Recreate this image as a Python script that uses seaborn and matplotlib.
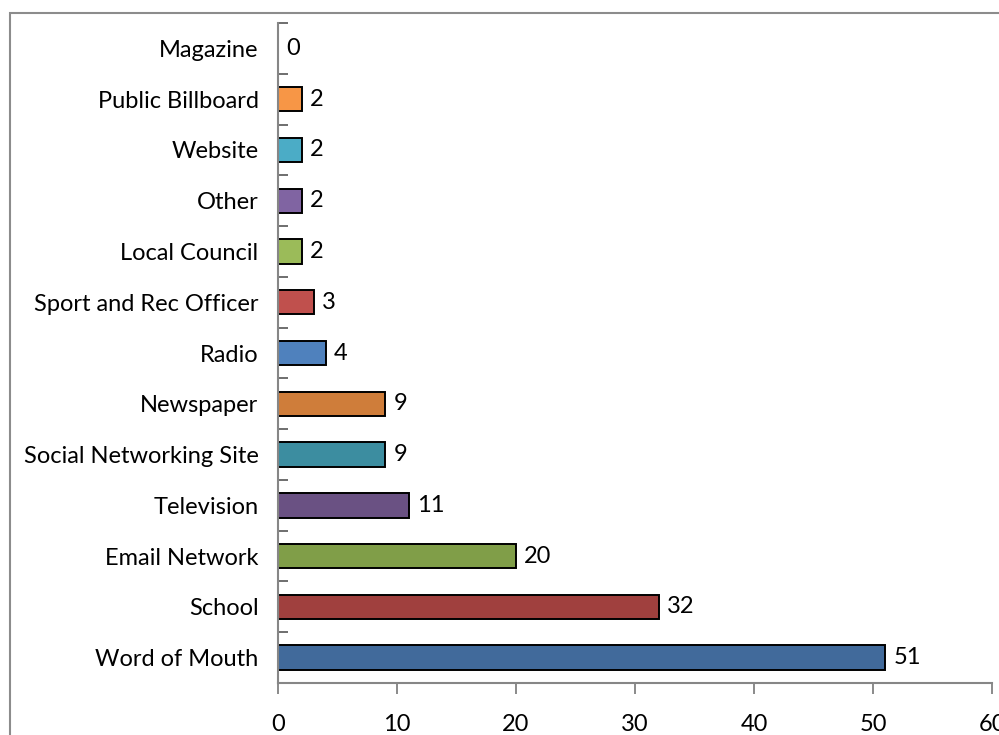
import numpy as np
import pandas as pd
import matplotlib
matplotlib.use("Agg")
import matplotlib.pyplot as plt
from matplotlib.patches import Rectangle
import seaborn as sns

# Survey: how respondents heard about the program
categories = [
    "Magazine", "Public Billboard", "Website", "Other", "Local Council",
    "Sport and Rec Officer", "Radio", "Newspaper", "Social Networking Site",
    "Television", "Email Network", "School", "Word of Mouth",
]
counts = [0, 2, 2, 2, 2, 3, 4, 9, 9, 11, 20, 32, 51]
bar_colors = [
    "#2C4D75", "#F79646", "#4BACC6", "#8064A2", "#9BBB59",
    "#C0504D", "#4F81BD", "#CF7D3A", "#3C8DA0",
    "#6A5183", "#809E48", "#A0403E", "#416A9B",
]
x_ticks = [0, 10, 20, 30, 40, 50, 60]

sns.set_theme(style="white")
plt.rcParams["font.family"] = ["Lato", "DejaVu Sans"]
FS = 17

df = pd.DataFrame({"source": categories, "count": counts})

fig = plt.figure(figsize=(9.99, 7.35), dpi=100)
ax = fig.add_axes([0.2783, 0.0707, 0.7147, 0.898])

sns.barplot(
    data=df, y="source", x="count", hue="source", order=categories,
    hue_order=categories, palette=bar_colors, legend=False, width=0.48,
    edgecolor="black", linewidth=1.4, saturation=1, ax=ax,
)

for cont in ax.containers:
    ax.bar_label(cont, fmt="%d", padding=6, fontsize=FS, color="black")

ax.set_xlim(0, 60)
ax.set_ylim(len(categories) - 0.5, -0.5)
ax.set_xticks(x_ticks)
ax.set_xlabel("")
ax.set_ylabel("")

# Category boundaries carry the tick marks on the vertical axis
ax.set_yticks(np.arange(-0.5, len(categories), 1.0), minor=True)
ax.tick_params(axis="y", which="major", length=0, pad=14, labelsize=FS,
               labelcolor="black")
ax.tick_params(axis="y", which="minor", direction="in", length=7,
               width=1.2, color="#555555", left=True)
ax.tick_params(axis="x", which="major", direction="out", length=8,
               width=1.2, color="#777777", pad=14, labelsize=FS,
               labelcolor="black", bottom=True)

for side in ("top", "right"):
    ax.spines[side].set_visible(False)
for side in ("left", "bottom"):
    ax.spines[side].set_color("#868686")
    ax.spines[side].set_linewidth(1.5)

# Chart-area border
fig.patches.append(Rectangle((10 / 999, -0.1), 1.2, 1.1 - 13 / 735,
                             transform=fig.transFigure, fill=False,
                             edgecolor="#8C8C8C", linewidth=1.5))

fig.savefig("out.png", dpi=100)
